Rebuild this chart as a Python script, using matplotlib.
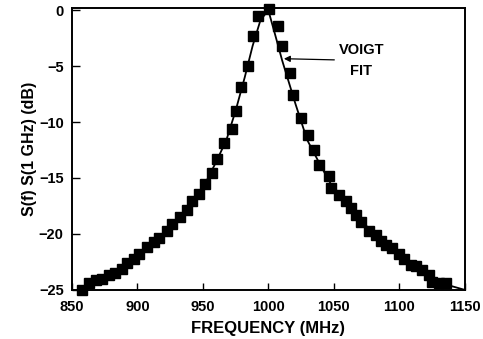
import matplotlib.pyplot as plt

# measured points (MHz, dB)
freq = [857.5, 863.2, 868.2, 872.8, 878.0, 883.1, 888.1, 892.0, 897.1, 900.9,
        907.3, 912.4, 916.2, 922.6, 926.4, 932.8, 937.9, 941.7, 946.8, 952.0,
        957.0, 960.8, 966.4, 972.0, 975.2, 979.0, 984.3, 988.1, 991.9, 1000.5,
        1007.5, 1010.1, 1016.7, 1018.8, 1024.6, 1030.5, 1034.8, 1038.6, 1046.3, 1047.6,
        1054.0, 1059.0, 1063.0, 1066.7, 1070.5, 1076.9, 1082.0, 1085.8, 1089.7, 1094.7,
        1099.8, 1103.7, 1108.8, 1112.6, 1117.7, 1122.8, 1125.3, 1130.4, 1135.6]
s_db = [-25.0, -24.4, -24.1, -24.0, -23.7, -23.5, -23.1, -22.6, -22.2, -21.8,
        -21.2, -20.7, -20.4, -19.7, -19.1, -18.5, -17.9, -17.1, -16.4, -15.5,
        -14.6, -13.3, -11.9, -10.6, -9.0, -6.9, -5.0, -2.3, -0.5, 0.1,
        -1.4, -3.2, -5.6, -7.6, -9.6, -11.2, -12.5, -13.8, -14.8, -15.9,
        -16.5, -17.1, -17.7, -18.3, -18.9, -19.7, -20.1, -20.6, -21.0, -21.3,
        -21.8, -22.2, -22.8, -22.9, -23.2, -23.7, -24.3, -24.4, -24.4]

# voigt fit curve
fit_f = [853, 865, 880, 895, 910, 925, 940, 950, 960, 968, 975, 982, 988, 994, 1000,
         1005, 1010.6, 1020.8, 1029.7, 1040, 1047.6, 1060, 1075, 1090, 1105, 1120, 1135, 1150]
fit_db = [-25.2, -24.4, -23.6, -22.4, -21.0, -19.4, -17.5, -15.9, -13.6, -11.6, -9.0, -6.0, -3.2, -0.9, 0.0,
          -2.1, -4.5, -8.4, -11.6, -13.9, -15.5, -17.2, -19.3, -21.0, -22.4, -23.6, -24.5, -25.0]

x_ticks = [850, 900, 950, 1000, 1050, 1100, 1150]
y_ticks = [0, -5, -10, -15, -20, -25]

plt.rcParams['font.family'] = ['Liberation Sans', 'DejaVu Sans']
plt.rcParams['font.weight'] = 'bold'

fig = plt.figure(figsize=(4.83, 3.39), dpi=100)
ax = fig.add_axes([0.149, 0.145, 0.813, 0.83])

ax.plot(fit_f, fit_db, color='black', lw=1.3, zorder=2)
ax.plot(freq, s_db, ls='none', marker='s', ms=7.3, color='black', zorder=3, clip_on=False)

ax.annotate("VOIGT\nFIT", xy=(1011.9, -4.34), xytext=(1071, -4.5),
            ha='center', va='center', fontsize=10.5, fontweight='bold',
            linespacing=1.6,
            arrowprops=dict(arrowstyle='-|>', color='black', lw=0.9,
                            shrinkA=1, shrinkB=0, mutation_scale=9))

ax.set_xlim(850, 1150)
ax.set_ylim(-25, 0.15)
ax.set_xticks(x_ticks)
ax.set_yticks(y_ticks)
ax.set_yticklabels(["0", "\u22125", "\u221210", "\u221215", "\u221220", "\u221225"])
ax.tick_params(direction='in', length=6, width=1, labelsize=10.5, pad=7)
ax.tick_params(axis='y', pad=6)
ax.tick_params(axis='x', length=5)
for sp in ax.spines.values():
    sp.set_linewidth(1.4)

ax.set_xlabel("FREQUENCY (MHz)", fontsize=12, fontweight='bold', labelpad=5)
ax.set_ylabel("S(f) S(1 GHz) (dB)", fontsize=11.5, fontweight='bold', labelpad=1)

fig.savefig("out.png", dpi=100)
